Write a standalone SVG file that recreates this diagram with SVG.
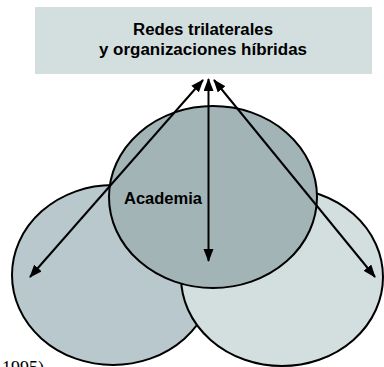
<svg xmlns="http://www.w3.org/2000/svg" width="384" height="367" viewBox="0 0 384 367">
<style>
.t{font-family:"Liberation Sans",Arial,sans-serif;font-weight:bold;fill:#000}
.e{stroke:#000;stroke-width:2}
.c{stroke:#000;stroke-width:2;fill:none;marker-start:url(#ah);marker-end:url(#ah)}
</style>
<defs>
<marker id="ah" markerUnits="userSpaceOnUse" markerWidth="14" markerHeight="12" viewBox="0 0 14 12" refX="12" refY="5" orient="auto-start-reverse">
<path d="M0,0 L13,5 L0,10 Z" fill="#000"/>
</marker>
</defs>
<rect width="384" height="367" fill="#fff"/>
<g id="redes">
<rect x="35" y="7" width="337" height="67" fill="#d3dfdf"/>
<text class="t" x="203" y="35" font-size="16" text-anchor="middle" textLength="140" lengthAdjust="spacingAndGlyphs">Redes trilaterales</text>
<text class="t" x="203" y="55" font-size="16" text-anchor="middle" textLength="208" lengthAdjust="spacingAndGlyphs">y organizaciones híbridas</text>
</g>
<g id="izquierda">
<ellipse class="e" cx="113" cy="275" rx="101" ry="90" fill="#b9c8cc"/>
</g>
<g id="derecha">
<ellipse class="e" cx="282" cy="277" rx="101" ry="89" fill="#d3dfdf"/>
</g>
<g id="academia">
<ellipse class="e" cx="213" cy="197" rx="104" ry="91" fill="#a3b4b7"/>
<text class="t" x="124" y="204" font-size="16" textLength="78" lengthAdjust="spacingAndGlyphs">Academia</text>
</g>
<g id="conectores">
<line class="c" x1="203" y1="80" x2="30" y2="277"/>
<line class="c" x1="208.5" y1="79" x2="208.5" y2="261"/>
<line class="c" x1="214" y1="80" x2="375" y2="277"/>
</g>
<text x="2" y="374" font-family="'Liberation Serif','Times New Roman',serif" font-size="18" fill="#000">1995)</text>
</svg>
